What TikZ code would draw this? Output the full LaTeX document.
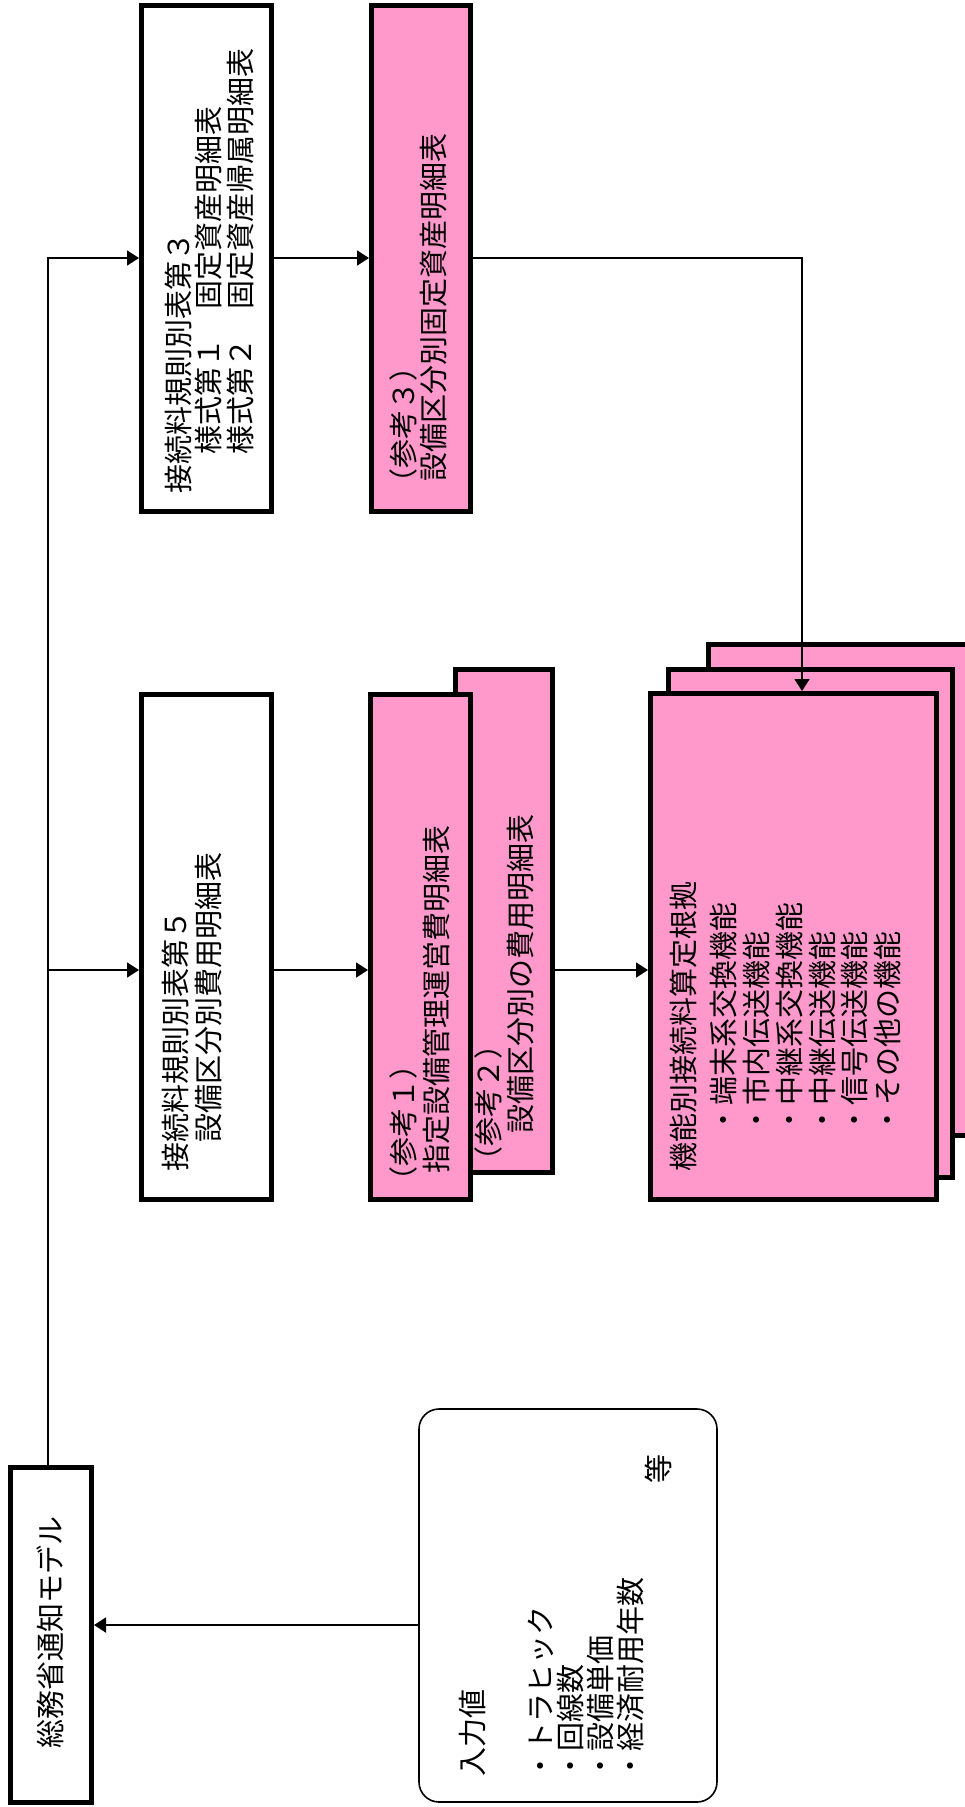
\documentclass[tikz,border=0pt]{standalone}
\usepackage{fontspec}
\newfontfamily\jp{Noto Sans CJK JP}
\usetikzlibrary{arrows.meta}
\definecolor{pinkfill}{RGB}{255,153,204}
\newcommand\lpar{\makebox[0.6em][r]{（}}
\begin{document}
\begin{tikzpicture}[x=1pt,y=-1pt,
  whitebox/.style={draw=black,line width=5pt,fill=white,inner sep=0pt},
  pinkbox/.style={draw=black,line width=5pt,fill=pinkfill,inner sep=0pt},
  roundbox/.style={draw=black,line width=1.6pt,fill=white,rounded corners=20pt,inner sep=0pt},
  txt/.style={rotate=90,anchor=base west,inner sep=0pt,font=\jp\fontsize{29pt}{31pt}\selectfont},
  arr/.style={draw=black,line width=1.8pt,-{Triangle[length=12pt,width=15pt]}}]
\useasboundingbox (0,0) rectangle (965,1807);
\clip (0,0) rectangle (965,1807);
% boxes
\node[whitebox,minimum width=130pt,minimum height=506pt] (A) at (206.5,258.5) {};
\node[pinkbox,minimum width=99pt,minimum height=506pt] (B) at (421,258.5) {};
\node[whitebox,minimum width=130pt,minimum height=505pt] (C) at (206.5,947) {};
\node[pinkbox,minimum width=97pt,minimum height=503pt] (D2) at (504,921) {};
\node[pinkbox,minimum width=100pt,minimum height=505pt] (D1) at (420.5,947) {};
\node[pinkbox,minimum width=269pt,minimum height=491pt] (E3) at (843,890) {};
\node[pinkbox,minimum width=284pt,minimum height=508pt] (E2) at (810.5,923.5) {};
\node[pinkbox,minimum width=286pt,minimum height=506pt] (E1) at (793.5,946.5) {};
\node[whitebox,minimum width=81pt,minimum height=335pt] (M) at (51,1635) {};
\node[roundbox,minimum width=298pt,minimum height=393pt] (I) at (568,1605.5) {};
% texts
\node[txt] (a1) at (189,494) {接続料規則別表第３};
\node[txt] (a2) at (219,455) {様式第１　固定資産明細表};
\node[txt] (a3) at (251,455) {様式第２　固定資産帰属明細表};
\node[txt] (b1) at (414,486) {\lpar 参考３）};
\node[txt] (b2) at (444,482) {設備区分別固定資産明細表};
\node[txt] (c1) at (186,1172) {接続料規則別表第５};
\node[txt] (c2) at (219,1143) {設備区分別費用明細表};
\node[txt] (d1) at (414,1184) {\lpar 参考１）};
\node[txt] (d2) at (447,1174) {指定設備管理運営費明細表};
\node[txt] (d3) at (499,1164) {\lpar 参考２）};
\node[txt] (d4) at (531,1134) {設備区分別の費用明細表};
\node[txt] (e0) at (694,1172) {機能別接続料算定根拠};
\node[txt] (e1) at (734,1135) {・端末系交換機能};
\node[txt] (e2) at (767,1135) {・市内伝送機能};
\node[txt] (e3) at (800,1135) {・中継系交換機能};
\node[txt] (e4) at (833,1135) {・中継伝送機能};
\node[txt] (e5) at (865,1135) {・信号伝送機能};
\node[txt] (e6) at (898,1135) {・その他の機能};
\node[txt,anchor=base] (m1) at (61,1632) {総務省通知モデル};
\node[txt] (i0) at (483,1777) {入力値};
\node[txt] (i1) at (551,1781) {・トラヒック};
\node[txt] (i2) at (581,1781) {・回線数};
\node[txt] (i3) at (611,1781) {・設備単価};
\node[txt] (i4) at (641,1781) {・経済耐用年数};
\node[txt] (i5) at (669,1484) {等};
% connectors
\coordinate (ya) at (48,258);
\coordinate (yc) at (48,970);
\coordinate (yb) at (802,258);
\coordinate (yi) at (0,1625);
\draw[arr] (M.north -| ya) |- (A.west |- ya);
\draw[arr] (yc) -- (C.west |- yc);
\draw[arr] (A.east |- ya) -- (B.west |- ya);
\draw[arr] (C.east |- yc) -- (D1.west |- yc);
\draw[arr] (D2.east |- yc) -- (E1.west |- yc);
\draw[arr] (B.east |- yb) -| (E1.north -| yb);
\draw[arr] (I.west |- yi) -- (M.east |- yi);
\end{tikzpicture}
\end{document}
